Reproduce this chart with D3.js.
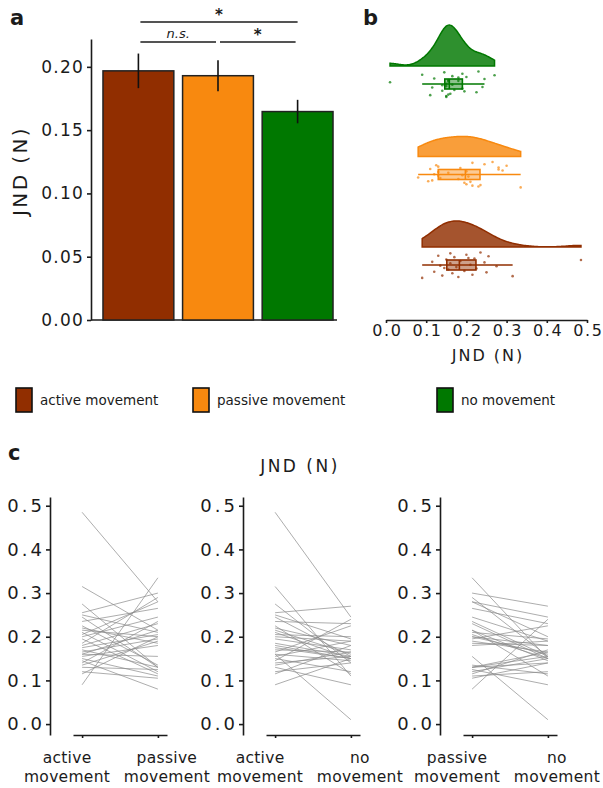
<!DOCTYPE html>
<html>
<head>
<meta charset="utf-8">
<script src="https://cdn.jsdelivr.net/npm/d3@7"></script>
<style>
body { margin: 0; background: #fff; }
svg { display: block; font-family: 'DejaVu Sans', sans-serif; }
</style>
</head>
<body>
<svg id="chart" width="603" height="788"></svg>
<script>
const conditions = ['active', 'passive', 'none']
const conditionLabels = ['active movement', 'passive movement', 'no movement']
const tickLabels = [['active', 'movement'], ['passive', 'movement'], ['no', 'movement']]
const colors = ['#912e00', '#f8890f', '#007800']

// JND per participant (N), same order in every array
const active = [0.485, 0.315, 0.275, 0.255, 0.25, 0.245, 0.235, 0.225, 0.22, 0.215, 0.21, 0.2, 0.195, 0.185, 0.18,
    0.175, 0.17, 0.165, 0.16, 0.16, 0.155, 0.15, 0.14, 0.135, 0.13, 0.12, 0.115, 0.09, 0.145, 0.205]
const passive = [0.28, 0.215, 0.13, 0.3, 0.21, 0.13, 0.265, 0.135, 0.185, 0.2, 0.12, 0.245, 0.115, 0.29, 0.23,
    0.205, 0.13, 0.195, 0.155, 0.215, 0.18, 0.11, 0.235, 0.19, 0.125, 0.105, 0.2, 0.335, 0.08, 0.28]
const noMovement = [0.245, 0.11, 0.14, 0.27, 0.195, 0.155, 0.23, 0.115, 0.18, 0.16, 0.15, 0.19, 0.17, 0.155, 0.15,
    0.15, 0.165, 0.225, 0.01, 0.145, 0.19, 0.12, 0.155, 0.165, 0.09, 0.14, 0.18, 0.15, 0.24, 0.2]

const yTicksA = [0, 0.05, 0.1, 0.15, 0.2]
const xTicksB = [0, 0.1, 0.2, 0.3, 0.4, 0.5]
const yTicksC = [0, 0.1, 0.2, 0.3, 0.4, 0.5]
const comparisons = [[0, 2, '*'], [0, 1, 'n.s.'], [1, 2, '*']]
const pairs = [[0, 1], [0, 2], [1, 2]]

const series = [active, passive, noMovement]
const svg = d3.select('#chart')
const textColor = '#1b1b1b'

function styleAxis(g, size, spacing) {
    g.selectAll('path, line').attr('stroke', textColor).attr('stroke-width', 1.6)
    g.selectAll('text').attr('fill', textColor).attr('font-size', size).attr('letter-spacing', spacing)
        .attr('font-family', 'DejaVu Sans')
}

// ---- panel a
const ya = d3.scaleLinear().domain([0, 0.222]).range([320, 39])
const xa = d3.scaleBand().domain(conditions).range([99, 337]).paddingInner(0.11).paddingOuter(0.05)

const gA = svg.append('g')
gA.append('g').attr('transform', 'translate(91,0)')
    .call(d3.axisLeft(ya).tickValues(yTicksA).tickFormat(d3.format('.2f')).tickSize(4).tickSizeOuter(0).tickPadding(3))
    .call(g => styleAxis(g, 17, 1.2))
gA.append('line').attr('x1', 91).attr('x2', xa.range()[1]).attr('y1', ya(0)).attr('y2', ya(0))
    .attr('stroke', textColor).attr('stroke-width', 1.6)

const statsA = series.map(v => ({ mean: d3.mean(v), se: d3.deviation(v) / Math.sqrt(v.length) }))

gA.selectAll('.bar').data(conditions).enter().append('rect')
    .attr('x', d => xa(d))
    .attr('y', (d, i) => ya(statsA[i].mean))
    .attr('width', xa.bandwidth())
    .attr('height', (d, i) => ya(0) - ya(statsA[i].mean))
    .attr('fill', (d, i) => colors[i])
    .attr('stroke', '#222').attr('stroke-width', 1.5)

gA.selectAll('.err').data(conditions).enter().append('line')
    .attr('x1', d => xa(d) + xa.bandwidth() / 2)
    .attr('x2', d => xa(d) + xa.bandwidth() / 2)
    .attr('y1', (d, i) => ya(statsA[i].mean - statsA[i].se))
    .attr('y2', (d, i) => ya(statsA[i].mean + statsA[i].se))
    .attr('stroke', '#111').attr('stroke-width', 1.6)

for (let [from, to, label] of comparisons) {
    const wide = to - from > 1
    const y = wide ? 22 : 42
    const x1 = xa(conditions[from]) + xa.bandwidth() / 2 + 2
    const x2 = xa(conditions[to]) + xa.bandwidth() / 2 - (wide ? 0 : 2)
    gA.append('line').attr('x1', x1).attr('x2', x2).attr('y1', y).attr('y2', y)
        .attr('stroke', textColor).attr('stroke-width', 1.4)
    gA.append('text').attr('x', (x1 + x2) / 2).attr('y', label === '*' ? y - 2 : y - 4)
        .attr('text-anchor', 'middle').attr('fill', textColor)
        .attr('font-size', label === '*' ? 15 : 13).attr('font-style', label === '*' ? 'normal' : 'italic')
        .attr('font-weight', label === '*' ? 'bold' : 'normal')
        .text(label)
}

gA.append('text').attr('transform', 'translate(27,171) rotate(-90)').attr('text-anchor', 'middle')
    .attr('font-size', 20).attr('letter-spacing', 2.4).attr('fill', textColor).text('JND (N)')
gA.append('text').attr('x', 10).attr('y', 25).attr('font-size', 21).attr('font-weight', 'bold')
    .attr('fill', textColor).text('a')

// ---- panel b
const xb = d3.scaleLinear().domain([0, 0.5]).range([386, 587])
const baseY = d3.scalePoint().domain(['none', 'passive', 'active']).range([66, 247])
const gB = svg.append('g')

function bandwidth(v) {
    const s = v.slice().sort(d3.ascending)
    const iqr = d3.quantileSorted(s, 0.75) - d3.quantileSorted(s, 0.25)
    return 1.45 * 0.9 * Math.min(d3.deviation(v), iqr / 1.34) * Math.pow(v.length, -0.2)
}

function kde(v) {
    const bw = bandwidth(v)
    const [lo, hi] = d3.extent(v)
    return d3.range(0, 121).map(k => {
        const x = lo + (hi - lo) * k / 120
        const dens = d3.mean(v, xi => Math.exp(-0.5 * ((x - xi) / bw) ** 2)) / (bw * Math.sqrt(2 * Math.PI))
        return [x, dens]
    })
}

const densities = series.map(kde)
const maxDensity = d3.max(densities, d => d3.max(d, p => p[1]))
const hScale = d3.scaleLinear().domain([0, maxDensity]).range([0, 41])

conditions.forEach((c, i) => {
    const base = baseY(c)
    const v = series[i]
    const col = colors[i]
    const area = d3.area().x(d => xb(d[0])).y0(base).y1(d => base - hScale(d[1])).curve(d3.curveBasis)
    gB.append('path').attr('d', area(densities[i]))
        .attr('fill', col).attr('fill-opacity', 0.82).attr('stroke', col).attr('stroke-width', 1.5)

    const s = v.slice().sort(d3.ascending)
    const q1 = d3.quantileSorted(s, 0.25), med = d3.quantileSorted(s, 0.5), q3 = d3.quantileSorted(s, 0.75)
    const iqr = q3 - q1
    const wLo = d3.min(s.filter(x => x >= q1 - 1.5 * iqr))
    const wHi = d3.max(s.filter(x => x <= q3 + 1.5 * iqr))
    const cy = base + 18

    gB.selectAll(null).data(v).enter().append('circle')
        .attr('cx', d => xb(d))
        .attr('cy', (d, k) => base + 5 + 26 * ((k * 0.6180339 + 0.31) % 1))
        .attr('r', 1.3)
        .attr('fill', col).attr('fill-opacity', 0.7)

    gB.append('line').attr('x1', xb(wLo)).attr('x2', xb(wHi)).attr('y1', cy).attr('y2', cy)
        .attr('stroke', col).attr('stroke-width', 1.6)
    gB.append('rect').attr('x', xb(q1)).attr('width', xb(q3) - xb(q1)).attr('y', cy - 5).attr('height', 10)
        .attr('fill', col).attr('fill-opacity', 0.45).attr('stroke', col).attr('stroke-width', 1.6)
    gB.append('line').attr('x1', xb(med)).attr('x2', xb(med)).attr('y1', cy - 5).attr('y2', cy + 5)
        .attr('stroke', col).attr('stroke-width', 1.6)
})

gB.append('g').attr('transform', 'translate(0,320)')
    .call(d3.axisBottom(xb).tickValues(xTicksB).tickFormat(d3.format('.1f')).tickSize(3).tickSizeOuter(0).tickPadding(2))
    .call(g => styleAxis(g, 16, 1.6))
    .call(g => g.selectAll('text').attr('dx', 0.8))
gB.append('text').attr('x', 488).attr('y', 361).attr('text-anchor', 'middle').attr('font-size', 16)
    .attr('letter-spacing', 2).attr('fill', textColor).text('JND (N)')
gB.append('text').attr('x', 363).attr('y', 25).attr('font-size', 21).attr('font-weight', 'bold')
    .attr('fill', textColor).text('b')

// ---- legend
const legendX = [16, 193, 437]
conditionLabels.forEach((label, i) => {
    svg.append('rect').attr('x', legendX[i]).attr('y', 388).attr('width', 16).attr('height', 24)
        .attr('fill', colors[i]).attr('stroke', '#111').attr('stroke-width', 1.6)
    svg.append('text').attr('x', legendX[i] + 24).attr('y', 405).attr('font-size', 13.5)
        .attr('fill', textColor).text(label)
})

// ---- panel c
const yc = d3.scaleLinear().domain([-0.025, 0.52]).range([735, 497])
const panelX = [50, 243, 440]
const gC = svg.append('g')

pairs.forEach(([a, b], k) => {
    const x0 = panelX[k]
    const xc = d3.scalePoint().domain([a, b]).range([x0 + 23, x0 + 117]).padding(0.12)

    gC.append('g').attr('transform', `translate(${x0},0)`)
        .call(d3.axisLeft(yc).tickValues(yTicksC).tickFormat(d3.format('.1f')).tickSize(4).tickSizeOuter(0).tickPadding(1))
        .call(g => styleAxis(g, 18, 3))
    gC.append('g').attr('transform', 'translate(0,735)')
        .call(d3.axisBottom(xc).tickFormat('').tickSize(3).tickSizeOuter(0))
        .call(g => styleAxis(g, 16, 0))

    gC.selectAll(null).data(series[a]).enter().append('line')
        .attr('x1', xc(a)).attr('x2', xc(b))
        .attr('y1', d => yc(d))
        .attr('y2', (d, i) => yc(series[b][i]))
        .attr('stroke', '#8a8a8a').attr('stroke-opacity', 0.7).attr('stroke-width', 1)

    for (let [c, shift] of [[a, -15], [b, 9]]) {
        const t = gC.append('text').attr('text-anchor', 'middle').attr('font-size', 15.5)
            .attr('letter-spacing', 0.3).attr('fill', textColor)
        t.append('tspan').attr('x', xc(c) + shift).attr('y', 763).text(tickLabels[c][0])
        t.append('tspan').attr('x', xc(c) + shift).attr('y', 782).text(tickLabels[c][1])
    }
})

gC.append('text').attr('x', 300).attr('y', 472).attr('text-anchor', 'middle').attr('font-size', 17)
    .attr('letter-spacing', 2.5).attr('fill', textColor).text('JND (N)')
gC.append('text').attr('x', 8).attr('y', 460).attr('font-size', 21).attr('font-weight', 'bold')
    .attr('fill', textColor).text('c')
</script>
</body>
</html>
